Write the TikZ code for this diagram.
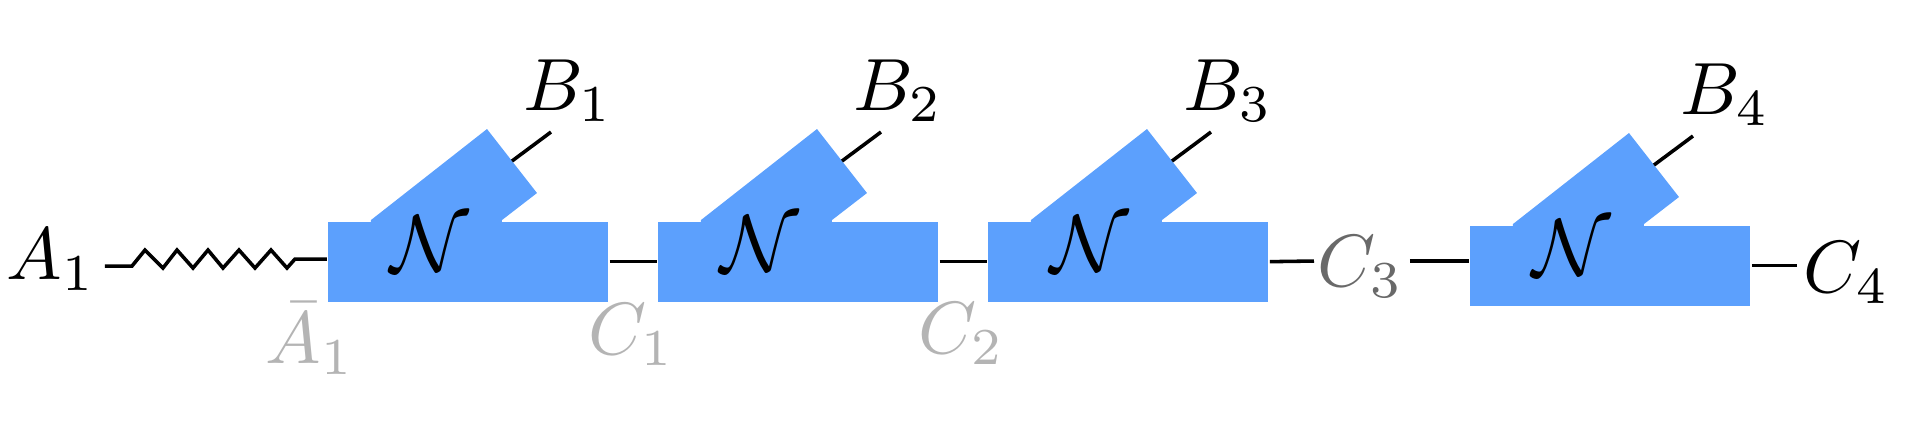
\documentclass[tikz,border=0pt]{standalone}
\definecolor{nblue}{RGB}{92,160,253}
\definecolor{lgray}{RGB}{180,180,180}
\definecolor{dgray}{RGB}{105,105,105}
\begin{document}
\begin{tikzpicture}[x=0.1351pt,y=-0.1351pt,
  chanbox/.style={fill=nblue,draw=none,minimum width=37.83pt,minimum height=10.85pt,inner sep=0pt,anchor=north west},
  wire/.style={line width=0.48pt,black},
  lab/.style={inner sep=0pt,anchor=base},
  glab/.style={lab,text=lgray}]
\useasboundingbox (0,0) rectangle (1905,432);
\foreach \i/\x/\y/\bx in {1/327/220/0,2/657/220/0,3/987/220/0,4/1469/224/15}{
  \begin{scope}[shift={(\x,\y)}]
    \node[chanbox] (n\i) at (0,0) {};
    \fill[nblue] (44,0) -- (160,-91) -- (210,-27) -- (175,0) -- (175,12) -- (44,12) -- cycle;
    \node (N\i) at (103,24) {\fontsize{10.6pt}{12pt}\selectfont$\mathcal{N}$};
    \coordinate (t\i) at (185,-59);
    \coordinate (e\i) at (224,-88);
    \draw[wire] (t\i) -- (e\i);
    \node[lab] (B\i) at (241+\bx,-110) {$B_{\i}$};
  \end{scope}
}
% labels
\node[lab] (A1) at (51,279) {$A_1$};
\node[glab] (A1b) at (310,363) {$\bar{A}_1$};
\node[glab] (C1) at (632,354) {$C_1$};
\node[glab] (C2) at (962,353) {$C_2$};
\node[lab,text=dgray] (C3) at (1361,286) {$C_3$};
\node[lab] (C4) at (1847,292) {$C_4$};
% wires
\coordinate (a1a) at (105,266);
\coordinate (z2) at (295,259);
\coordinate (c3a) at (1314,261);
\coordinate (c3b) at (1410,261);
\coordinate (c4a) at (1797,263);
\draw[wire] (a1a) -- (132,266) -- (145,250) -- (163,268) -- (177,250) -- (193,268)
  -- (208,250) -- (223,268) -- (239,250) -- (255,268) -- (271,250) -- (287,268)
  -- (z2) -- (z2 -| n1.west);
\draw[wire] (n1.east) -- (n2.west);
\draw[wire] (n2.east) -- (n3.west);
\draw[wire] (n3.east) -- (c3a);
\draw[wire] (c3b) -- (c3b -| n4.west);
\draw[wire] (n4.east) -- (n4.east -| c4a);
\end{tikzpicture}
\end{document}
